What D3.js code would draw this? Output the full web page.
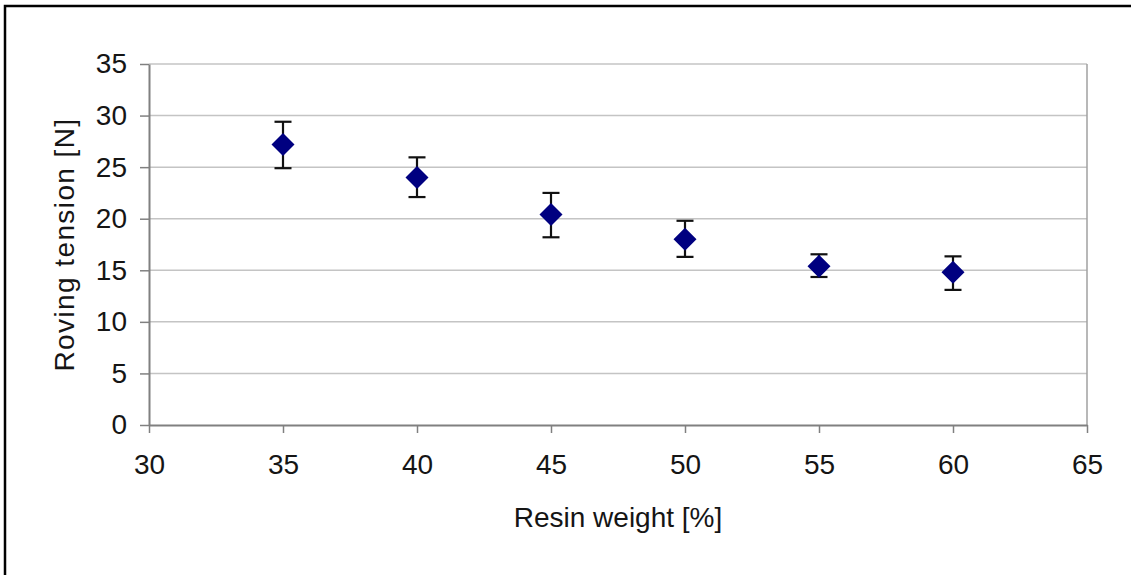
<!DOCTYPE html>
<html>
<head>
<meta charset="utf-8">
<script src="https://cdn.jsdelivr.net/npm/d3@7"></script>
<style>
  body { margin: 0; background: #fff; }
  svg { display: block; font-family: "Liberation Sans", Arial, sans-serif; }
</style>
</head>
<body>
<script>
// chart size
const w = 1131;
const h = 575;

// data
const resinWeight = [35, 40, 45, 50, 55, 60];
const tension = [27.2, 24.0, 20.4, 18.0, 15.4, 14.8];
const errLow = [2.3, 1.9, 2.2, 1.7, 1.05, 1.7];
const errHigh = [2.2, 1.95, 2.1, 1.8, 1.15, 1.55];
const xTicks = [30, 35, 40, 45, 50, 55, 60, 65];
const yTicks = [0, 5, 10, 15, 20, 25, 30, 35];

// plot area
const plotLeft = 149, plotRight = 1087, plotTop = 64, plotBottom = 425;

const x = d3.scaleLinear().domain([30, 65]).range([plotLeft, plotRight]);
const y = d3.scaleLinear().domain([0, 35]).range([plotBottom, plotTop]);

const svg = d3.select("body").append("svg")
    .attr("width", w)
    .attr("height", h);

// outer frame (cut off at right and bottom)
svg.append("rect")
    .attr("x", 5).attr("y", 6)
    .attr("width", w + 20).attr("height", h + 20)
    .attr("fill", "none")
    .attr("stroke", "#000")
    .attr("stroke-width", 2.5);

// gridlines
svg.append("g").selectAll("line")
    .data(yTicks.filter(d => d > 0))
    .enter()
    .append("line")
    .attr("x1", plotLeft).attr("x2", plotRight)
    .attr("y1", d => y(d)).attr("y2", d => y(d))
    .attr("stroke", "#c4c4c4")
    .attr("stroke-width", 1.5);

// right border of plot area
svg.append("line")
    .attr("x1", plotRight).attr("x2", plotRight)
    .attr("y1", plotTop).attr("y2", plotBottom)
    .attr("stroke", "#a0a0a0")
    .attr("stroke-width", 1.5);

// axes
const xAxis = svg.append("g")
    .attr("transform", `translate(0,${plotBottom})`)
    .call(d3.axisBottom(x).tickValues(xTicks).tickSize(8).tickPadding(21).tickSizeOuter(0));
const yAxis = svg.append("g")
    .attr("transform", `translate(${plotLeft},0)`)
    .call(d3.axisLeft(y).tickValues(yTicks).tickSize(9).tickPadding(13).tickSizeOuter(0));

[xAxis, yAxis].forEach(a => {
  a.select(".domain").attr("stroke", "#808080").attr("stroke-width", 2);
  a.selectAll(".tick line").attr("stroke", "#808080").attr("stroke-width", 1.5);
  a.selectAll(".tick text")
      .attr("fill", "#151515")
      .style("font-size", "28px")
      .style("font-family", "'Liberation Sans', Arial, sans-serif");
});

// error bars
const pts = resinWeight.map((d, i) => ({ x: d, y: tension[i], lo: tension[i] - errLow[i], hi: tension[i] + errHigh[i] }));

const eb = svg.append("g").attr("stroke", "#111").attr("stroke-width", 2.2);
eb.selectAll(".stem").data(pts).enter().append("line")
    .attr("x1", d => x(d.x)).attr("x2", d => x(d.x))
    .attr("y1", d => y(d.lo)).attr("y2", d => y(d.hi));
eb.selectAll(".capHi").data(pts).enter().append("line")
    .attr("x1", d => x(d.x) - 8.5).attr("x2", d => x(d.x) + 8.5)
    .attr("y1", d => y(d.hi)).attr("y2", d => y(d.hi));
eb.selectAll(".capLo").data(pts).enter().append("line")
    .attr("x1", d => x(d.x) - 8.5).attr("x2", d => x(d.x) + 8.5)
    .attr("y1", d => y(d.lo)).attr("y2", d => y(d.lo));

// diamond markers
svg.append("g").selectAll("path")
    .data(pts)
    .enter()
    .append("path")
    .attr("d", "M0,-11.5L11.5,0L0,11.5L-11.5,0Z")
    .attr("transform", d => `translate(${x(d.x)},${y(d.y)})`)
    .attr("fill", "#000080");

// axis titles
svg.append("text")
    .attr("x", (plotLeft + plotRight) / 2)
    .attr("y", 527)
    .attr("text-anchor", "middle")
    .attr("fill", "#151515")
    .style("font-size", "28px")
    .text("Resin weight [%]");

svg.append("text")
    .attr("transform", `translate(74,${(plotTop + plotBottom) / 2}) rotate(-90)`)
    .attr("text-anchor", "middle")
    .attr("fill", "#151515")
    .style("font-size", "28px")
    .style("letter-spacing", "1.4px")
    .text("Roving tension [N]");
</script>
</body>
</html>
